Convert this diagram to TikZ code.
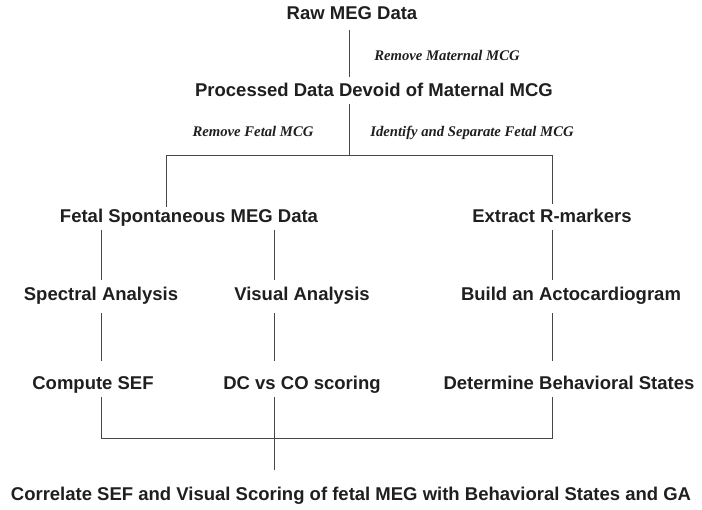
\documentclass[tikz,border=0pt]{standalone}
\usepackage{fontspec}
\setmainfont{Liberation Sans}
\newfontfamily\notefont{Liberation Serif}
\usepackage{tikz}
\usetikzlibrary{positioning, calc}
\tikzset{
  stage/.style={anchor=base, inner xsep=0pt, inner ysep=3pt, text height=13pt, text depth=4pt, font=\fontsize{18.5}{22}\selectfont\bfseries, text=black!88},
  note/.style={anchor=base, inner sep=0pt, font=\notefont\fontsize{14.7}{17}\selectfont\bfseries\itshape, text=black!88},
  link/.style={line width=0.9pt, draw=black!72},
}
\begin{document}
\begin{tikzpicture}[x=1pt, y=-1pt]
\useasboundingbox (0,0) rectangle (702,510);

% columns
\coordinate (colA) at (101,0);
\coordinate (colB) at (274,0);
\coordinate (colC) at (552,0);
\coordinate (split) at (349,155);
\coordinate (leftTop) at (166,155);
\coordinate (rightTop) at (552,155);
\coordinate (leftBot) at (101,438);
\coordinate (rightBot) at (552,438);

% stages
\node[stage] (raw)     at (352,20)  {Raw MEG Data};
\node[stage] (proc)    at (374,97)  {Processed Data Devoid of Maternal MCG};
\node[stage] (fetal)   at (189,223) {Fetal Spontaneous MEG Data};
\node[stage] (rmark)   at (552,223) {Extract R-markers};
\node[stage] (spec)    at (101,301) {Spectral Analysis};
\node[stage] (visual)  at (302,301) {Visual Analysis};
\node[stage] (acto)    at (571,301) {Build an Actocardiogram};
\node[stage] (sef)     at (93,390)  {Compute SEF};
\node[stage] (dcco)    at (302,390) {DC vs CO scoring};
\node[stage] (states)  at (569,390) {Determine Behavioral States};
\node[stage] (corr)    at (351,501) {Correlate SEF and Visual Scoring of fetal MEG with Behavioral States and GA};

% step notes
\node[note] (rmMat)  at (447,61)  {Remove Maternal MCG};
\node[note] (rmFet)  at (253,137) {Remove Fetal MCG};
\node[note] (sepFet) at (472,137) {Identify and Separate Fetal MCG};

% connectors
\draw[link, shorten <=3pt, shorten >=4pt] (raw.south -| split) -- (proc.north -| split);
\draw[link] (proc.south -| split) -- (split);
\draw[link, shorten >=3pt] (fetal.north -| leftTop) -- (leftTop) -- (rightTop) -- (rmark.north -| rightTop);
\draw[link, shorten >=5pt] (fetal.south -| colA) -- (spec.north -| colA);
\draw[link, shorten >=5pt] (fetal.south -| colB) -- (visual.north -| colB);
\draw[link, shorten >=5pt] (rmark.south -| colC) -- (acto.north -| colC);
\draw[link, shorten <=5pt, shorten >=13pt] (spec.south -| colA) -- (sef.north -| colA);
\draw[link, shorten <=5pt, shorten >=13pt] (visual.south -| colB) -- (dcco.north -| colB);
\draw[link, shorten <=5pt, shorten >=13pt] (acto.south -| colC) -- (states.north -| colC);
\draw[link] (sef.south -| colA) -- (leftBot) -- (rightBot) -- (states.south -| colC);
\draw[link, shorten >=15pt] (dcco.south -| colB) -- (corr.north -| colB);
\end{tikzpicture}
\end{document}
